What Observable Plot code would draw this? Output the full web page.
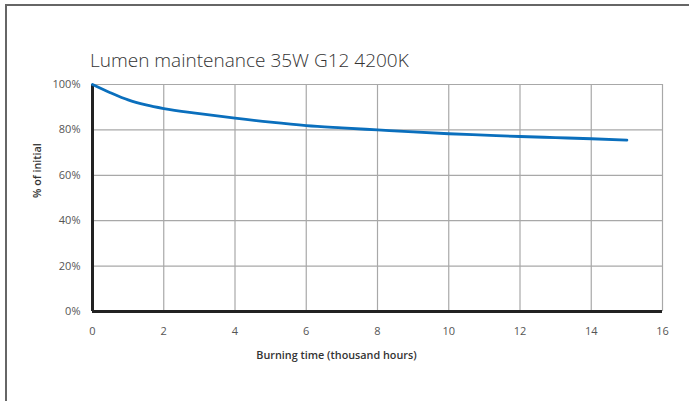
<!DOCTYPE html>
<html>
<head>
<meta charset="utf-8">
<script src="https://cdn.jsdelivr.net/npm/d3@7"></script>
<script src="https://cdn.jsdelivr.net/npm/@observablehq/plot@0.6"></script>
<style>
  html, body { margin: 0; padding: 0; background: #fff; }
  #wrap { position: relative; width: 689px; height: 401px; overflow: hidden; font-family: "Open Sans", sans-serif; }
  #frame { position: absolute; left: 5px; top: 4px; width: 800px; height: 500px; border-top: 2px solid #666; border-left: 2px solid #666; }
  #title { position: absolute; left: 90px; top: 47px; font-size: 19px; font-weight: 300; color: #333; white-space: nowrap; }
  #chart { position: absolute; left: 0; top: 0; }
</style>
</head>
<body>
<div id="wrap">
  <div id="frame"></div>
  <div id="chart"></div>
  <div id="title">Lumen maintenance 35W G12 4200K</div>
</div>
<script>
const hours = [0, 0.5, 1, 1.5, 2, 3, 4, 5, 6, 7, 8, 9, 10, 11, 12, 13, 14, 15];
const percent = [100, 96.4, 93.2, 91.0, 89.4, 87.2, 85.2, 83.4, 81.9, 80.9, 80.0, 79.1, 78.3, 77.7, 77.1, 76.6, 76.1, 75.5];
const xTicks = [0, 2, 4, 6, 8, 10, 12, 14, 16];
const yTicks = [0, 20, 40, 60, 80, 100];
const xLabel = "Burning time (thousand hours)";
const yLabel = "% of initial";

const data = hours.map((h, i) => ({h, p: percent[i]}));

const chart = Plot.plot({
  width: 689,
  height: 401,
  marginLeft: 92,
  marginRight: 27,
  marginTop: 84,
  marginBottom: 90,
  style: {fontFamily: "Open Sans, sans-serif", background: "transparent"},
  x: {domain: [0, 16], ticks: xTicks},
  y: {domain: [0, 100], ticks: yTicks},
  marks: [
    Plot.gridX(xTicks, {stroke: "#a8a8a8", strokeOpacity: 1, strokeWidth: 1.2}),
    Plot.gridY(yTicks, {stroke: "#a8a8a8", strokeOpacity: 1, strokeWidth: 1.2}),
    Plot.axisX(xTicks, {tickSize: 0, tickPadding: 16, fontSize: 11, fill: "#555", label: null}),
    Plot.axisY(yTicks, {tickSize: 0, tickPadding: 12, fontSize: 11, fill: "#555", label: null, tickFormat: d => d + "%"}),
    Plot.ruleY([0], {stroke: "#222", strokeWidth: 3}),
    Plot.ruleX([0], {stroke: "#222", strokeWidth: 3}),
    Plot.line(data, {x: "h", y: "p", stroke: "#0a6fbd", strokeWidth: 2.8, curve: "monotone-x"}),
    Plot.text([xLabel], {frameAnchor: "bottom", dx: -41, dy: 47, fontSize: 10.8, fontWeight: 600, fill: "#333"}),
    Plot.text([yLabel], {frameAnchor: "left", dx: -55, rotate: -90, fontSize: 10.8, fontWeight: 600, fill: "#333"})
  ]
});
document.getElementById("chart").appendChild(chart);
</script>
</body>
</html>
